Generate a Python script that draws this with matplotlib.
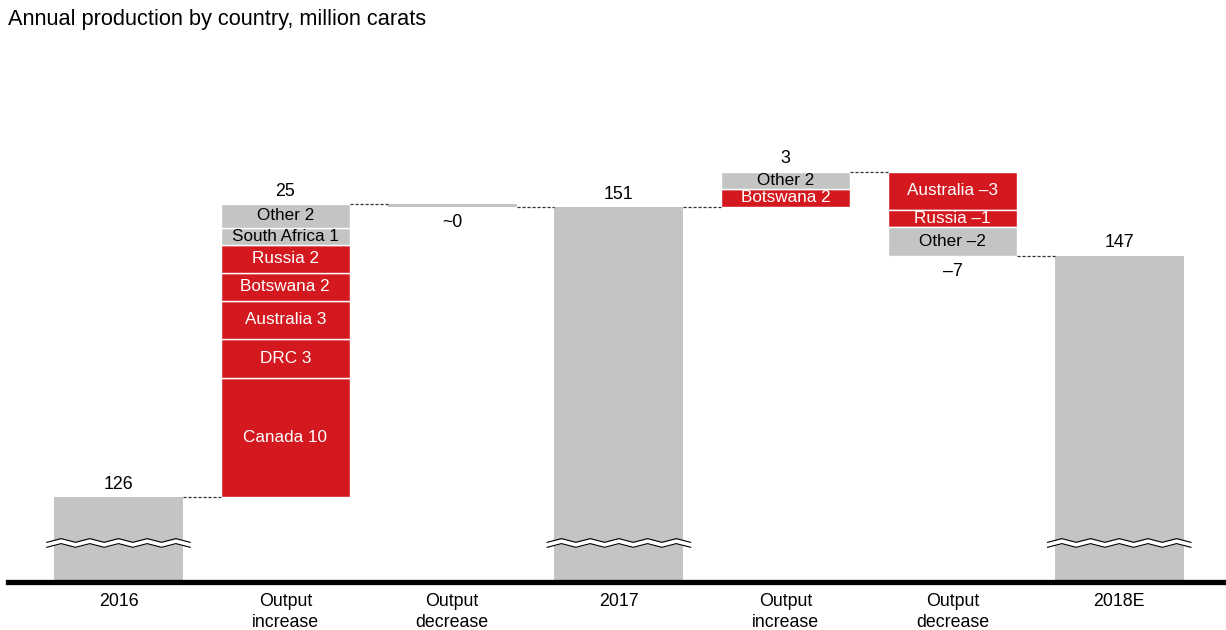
import numpy as np
import matplotlib.pyplot as plt

plt.rcParams['font.family'] = ['Liberation Sans', 'DejaVu Sans']

# annual production, million carats
categories = ['2016', 'Output\nincrease', 'Output\ndecrease', '2017',
              'Output\nincrease', 'Output\ndecrease', '2018E']
start_2016 = 126

inc_2017_names = ['Canada', 'DRC', 'Australia', 'Botswana', 'Russia', 'South Africa', 'Other']
inc_2017_values = [10.26, 3.36, 3.28, 2.41, 2.41, 1.47, 2.07]
dec_2017_value = -0.26

inc_2018_names = ['Botswana', 'Other']
inc_2018_values = [1.55, 1.5]
dec_2018_names = ['Australia', 'Russia', 'Other']
dec_2018_values = [-3.3, -1.45, -2.49]

RED = '#d3191f'
GREY = '#c3c5c4'
GREY_NAMES = {'Other', 'South Africa'}
W = 0.773
FS = 12.3      # labels inside segments
FS_NUM = 12.8  # totals and axis labels

fig = plt.figure(figsize=(12.26, 6.3), dpi=100)
ax = fig.add_axes([8 / 1226, 48 / 630, 1218 / 1226, 482 / 630])
ybot, ytop = 118.67, 160.22
ax.set_xlim(-0.6625, 6.64)
ax.set_ylim(ybot, ytop)
for s in ax.spines.values():
    s.set_visible(False)
ax.set_yticks([])
ax.set_xticks(range(len(categories)))
ax.set_xticklabels(categories, fontsize=FS_NUM, linespacing=1.28)
ax.tick_params(axis='x', length=0, pad=8)


def num(v):
    r = int(round(v))
    return f'–{abs(r)}' if r < 0 else str(r)


def total_bar(x, value):
    ax.bar(x, value - ybot, bottom=ybot, width=W, color=GREY, linewidth=0)
    ax.annotate(num(value), (x, value), xytext=(0, 3), textcoords='offset points',
                ha='center', va='bottom', fontsize=FS_NUM)


def stack(x, start, names, values):
    level = start
    for name, v in zip(names, values):
        bottom = level if v > 0 else level + v
        grey = name in GREY_NAMES
        ax.bar(x, abs(v), bottom=bottom, width=W, color=GREY if grey else RED,
               edgecolor='white', linewidth=1)
        ax.text(x, bottom + abs(v) / 2, f'{name} {num(v)}', ha='center', va='center',
                color='black' if grey else 'white', fontsize=FS)
        level += v
    return level


def connector(x0, x1, y):
    ax.plot([x0 + W / 2, x1 - W / 2], [y, y], color='#333333', lw=0.9,
            linestyle=(0, (2.5, 1.5)))


def draw_break(x, y=122.25):
    xs = x + np.arange(-5, 6) * 0.086
    ys = y + 0.16 * np.where(np.arange(11) % 2 == 0, -1, 1)
    gap = 0.43
    ax.fill_between(xs, ys - gap, ys, color='white', lw=0, zorder=3)
    ax.plot(xs, ys, color='black', lw=0.8, zorder=4)
    ax.plot(xs, ys - gap, color='black', lw=0.8, zorder=4)


# 2016 -> 2017
total_bar(0, start_2016)
top_inc = stack(1, start_2016, inc_2017_names, inc_2017_values)
ax.annotate(num(top_inc - start_2016), (1, top_inc), xytext=(0, 3), textcoords='offset points',
            ha='center', va='bottom', fontsize=FS_NUM)
connector(0, 1, start_2016)

ax.bar(2, -dec_2017_value, bottom=top_inc + dec_2017_value, width=W, color=GREY, linewidth=0)
ax.annotate('~0', (2, top_inc + dec_2017_value), xytext=(0, -5), textcoords='offset points',
            ha='center', va='top', fontsize=FS_NUM)
connector(1, 2, top_inc)

total_2017 = top_inc + dec_2017_value
connector(2, 3, total_2017)
total_bar(3, total_2017)

# 2017 -> 2018E
top_inc2 = stack(4, total_2017, inc_2018_names, inc_2018_values)
ax.annotate(num(top_inc2 - total_2017), (4, top_inc2), xytext=(0, 3), textcoords='offset points',
            ha='center', va='bottom', fontsize=FS_NUM)
connector(3, 4, total_2017)

total_2018 = stack(5, top_inc2, dec_2018_names, dec_2018_values)
ax.annotate(num(total_2018 - top_inc2), (5, total_2018), xytext=(0, -5), textcoords='offset points',
            ha='center', va='top', fontsize=FS_NUM)
connector(4, 5, top_inc2)
connector(5, 6, total_2018)
total_bar(6, total_2018)

for x in (0, 3, 6):
    draw_break(x)

ax.axhline(ybot, color='black', lw=3.8, zorder=5, clip_on=False)

fig.text(8 / 1226, 1 - 19 / 630, 'Annual production by country, million carats',
         fontsize=15.7, va='center', ha='left')

fig.savefig('out.png', dpi=100)
